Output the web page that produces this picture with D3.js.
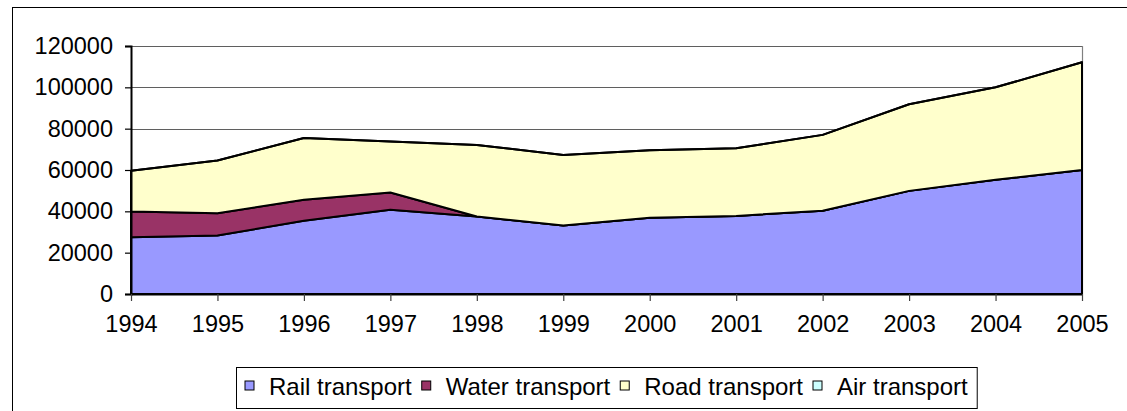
<!DOCTYPE html>
<html>
<head>
<meta charset="utf-8">
<script src="https://cdn.jsdelivr.net/npm/d3@7"></script>
<style>
  body { margin: 0; background: #fff; }
  text { font-family: "Liberation Sans", Arial, sans-serif; fill: #000; }
</style>
</head>
<body>
<div id="chart"></div>
<script>

var years = ["1994", "1995", "1996", "1997", "1998", "1999", "2000", "2001", "2002", "2003", "2004", "2005"];
var rail  = [27500, 28300, 35400, 40800, 37500, 33200, 36900, 37800, 40250, 49900, 55240, 60000];
var water = [12400, 10800, 10200, 8300, 0, 0, 0, 0, 0, 0, 0, 0];
var road  = [19700, 25500, 29900, 24700, 34600, 34100, 32600, 32700, 36750, 41900, 44760, 52100];
var air   = [0, 0, 0, 0, 0, 0, 0, 0, 0, 0, 0, 0];
var yTicks = [0, 20000, 40000, 60000, 80000, 100000, 120000];

var seriesNames = ["Rail transport", "Water transport", "Road transport", "Air transport"];
var seriesColors = ["#9999ff", "#993366", "#ffffcc", "#ccffff"];
var keys = ["rail", "water", "road", "air"];

var width = 1127, height = 411;
var margin = {left: 131, right: 1127 - 1082, top: 46, bottom: 411 - 294};

var rows = years.map(function(y, i) {
    return {year: y, rail: rail[i], water: water[i], road: road[i], air: air[i]};
});

var svg = d3.select("#chart").append("svg")
    .attr("width", width)
    .attr("height", height);

// outer chart border (cut off on right / bottom)
svg.append("rect")
    .attr("x", 12.5).attr("y", 7.5)
    .attr("width", 1300).attr("height", 600)
    .attr("fill", "none").attr("stroke", "#000").attr("stroke-width", 1);

var x = d3.scalePoint()
    .domain(years)
    .range([margin.left, width - margin.right]);

var y = d3.scaleLinear()
    .domain([0, 120000])
    .range([height - margin.bottom, margin.top]);

// gridlines
svg.append("g")
    .selectAll("line")
    .data(yTicks.slice(1))
    .enter().append("line")
    .attr("x1", margin.left).attr("x2", width - margin.right)
    .attr("y1", function(d) { return Math.round(y(d)) + 0.5; })
    .attr("y2", function(d) { return Math.round(y(d)) + 0.5; })
    .attr("stroke", "#5f5f5f").attr("stroke-width", 1.2);

// plot area right border
svg.append("line")
    .attr("x1", width - margin.right + 0.5).attr("x2", width - margin.right + 0.5)
    .attr("y1", margin.top).attr("y2", height - margin.bottom)
    .attr("stroke", "#808080").attr("stroke-width", 1.2);

var stack = d3.stack().keys(keys);
var layers = stack(rows);

var area = d3.area()
    .x(function(d) { return x(d.data.year); })
    .y0(function(d) { return y(d[0]); })
    .y1(function(d) { return y(d[1]); });

svg.append("g")
    .selectAll("path")
    .data(layers)
    .enter().append("path")
    .attr("d", area)
    .attr("fill", function(d, i) { return seriesColors[i]; })
    .attr("stroke", "#000")
    .attr("stroke-width", 2)
    .attr("stroke-linejoin", "round");

// axes
var yAxis = d3.axisLeft(y)
    .tickValues(yTicks)
    .tickSize(6)
    .tickPadding(12)
    .tickFormat(d3.format("d"));

var gy = svg.append("g")
    .attr("transform", "translate(" + margin.left + ",0)")
    .call(yAxis);
gy.select(".domain").attr("stroke", "#000").attr("stroke-width", 2);
gy.selectAll(".tick line").attr("stroke", "#000").attr("stroke-width", 1.2);
gy.selectAll(".tick text")
    .attr("font-size", "23.5px")
    .style("font-family", "Liberation Sans, Arial, sans-serif");

var xAxis = d3.axisBottom(x)
    .tickSize(7)
    .tickPadding(14)
    .tickSizeOuter(0);

var gx = svg.append("g")
    .attr("transform", "translate(0," + (height - margin.bottom) + ")")
    .call(xAxis);
gx.select(".domain").attr("stroke", "#000").attr("stroke-width", 2);
gx.selectAll(".tick line").attr("stroke", "#404040").attr("stroke-width", 1.2);
gx.selectAll(".tick text")
    .attr("font-size", "23.5px")
    .style("font-family", "Liberation Sans, Arial, sans-serif");

// legend
var legendBox = svg.append("rect");
var legend = svg.append("g");
var lx = 0;
var items = legend.selectAll("g")
    .data(seriesNames)
    .enter().append("g");

items.append("rect")
    .attr("width", 9).attr("height", 9)
    .attr("y", -14)
    .attr("fill", function(d, i) { return seriesColors[i]; })
    .attr("stroke", "#000").attr("stroke-width", 1);

items.append("text")
    .attr("x", 24)
    .attr("font-size", "24px")
    .text(function(d) { return d; });

items.each(function() {
    var g = d3.select(this);
    g.attr("transform", "translate(" + lx + ",0)");
    lx += 24 + g.select("text").node().getComputedTextLength() + 10;
});
lx -= 10;

var cx = (margin.left + width - margin.right) / 2;
var legendLeft = Math.round(cx - lx / 2);
legend.attr("transform", "translate(" + legendLeft + ",395)");

legendBox
    .attr("x", legendLeft - 9 + 0.5).attr("y", 367.5)
    .attr("width", lx + 18).attr("height", 41)
    .attr("fill", "#fff").attr("stroke", "#000").attr("stroke-width", 1);

</script>
</body>
</html>
